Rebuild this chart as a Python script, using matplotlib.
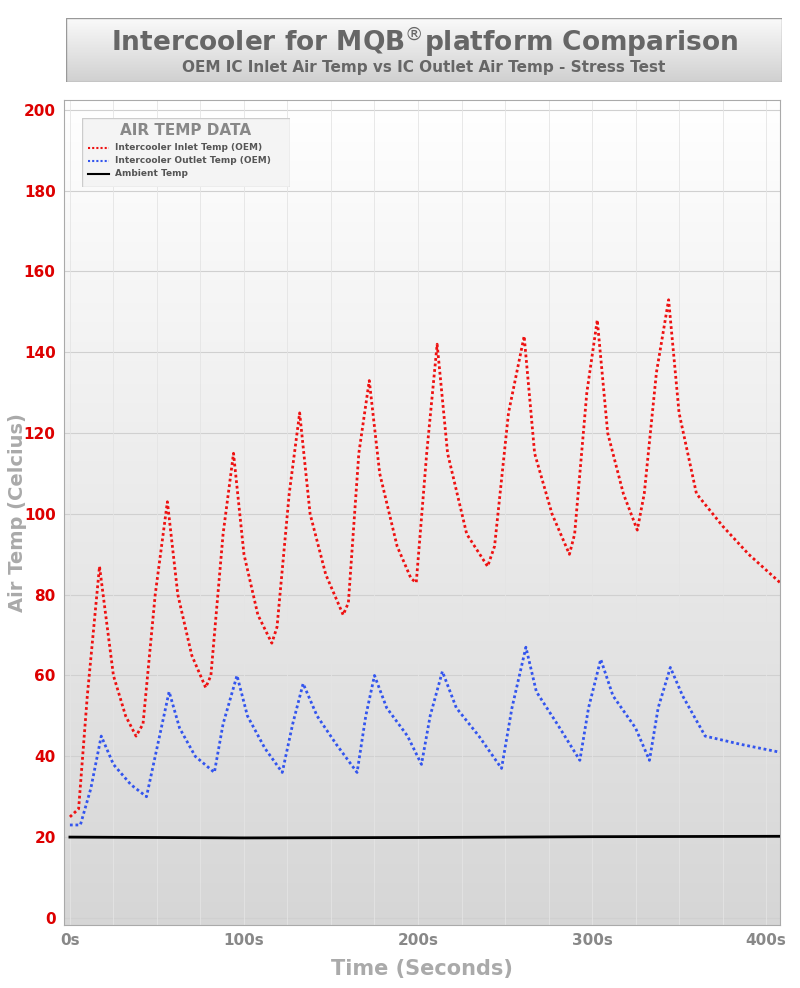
import matplotlib
matplotlib.use("Agg")
import matplotlib.pyplot as plt
import numpy as np
from matplotlib.patches import Rectangle
from matplotlib.colors import LinearSegmentedColormap

inlet_t = [0,5,10,17,25,32,38,42,49,56,62,70,78,81,88,94,100,108,116,119,126,132,138,147,157,160,166,172,178,188,196,199,205,211,217,228,240,244,252,261,267,277,287,290,297,303,309,318,326,330,337,344,350,360,375,390,408]
inlet_v = [25,27,55,87,60,50,45,48,80,103,80,65,57,60,95,115,90,75,68,72,105,125,100,85,75,78,115,133,110,92,84,83,115,142,115,95,87,92,125,144,115,100,90,95,130,148,120,105,96,105,135,153,125,105,97,90,83]
outlet_t = [0,6,12,18,25,35,44,50,57,63,72,83,88,96,102,112,122,128,134,142,153,165,170,175,182,194,202,207,214,222,235,248,254,262,268,280,293,298,305,312,325,333,338,345,352,365,385,408]
outlet_v = [23,23,32,45,38,33,30,42,56,47,40,36,48,60,50,42,36,48,58,50,43,36,50,60,52,45,38,50,61,52,45,37,52,67,56,48,39,52,64,55,47,39,52,62,55,45,43,41]
ambient_t = [0,100,200,300,408]
ambient_v = [20,19.8,19.9,20.1,20.2]
yticks = [0,20,40,60,80,100,120,140,160,180,200]
xticks = [0,100,200,300,400]
xlabels = ["0s","100s","200s","300s","400s"]

fig = plt.figure(figsize=(8,9.88), dpi=100)
fig.patch.set_facecolor("white")
ax = fig.add_axes([0.08,0.064,0.895,0.835])
xl = (-3.4,408); yl = (-1.7,202.5)
ax.set_xlim(xl); ax.set_ylim(yl)
grad = np.linspace(0,1,256).reshape(-1,1)
cm = LinearSegmentedColormap.from_list("g",["#d6d6d6","#ffffff"])
ax.imshow(grad, extent=[xl[0],xl[1],yl[0],yl[1]], origin="lower", cmap=cm, aspect="auto", zorder=0)
for y in yticks:
    ax.axhline(y, color="#d0d0d0", lw=0.8, zorder=1)
for x in range(0,410,25):
    ax.axvline(x, color="#e4e4e4", lw=0.6, zorder=1)

ax.plot(inlet_t, inlet_v, color="#ee1111", lw=2, ls=(0,(1,1)), zorder=3)
ax.plot(outlet_t, outlet_v, color="#3355ee", lw=2, ls=(0,(1,1)), zorder=3)
ax.plot(ambient_t, ambient_v, color="black", lw=2, zorder=3)

ax.set_yticks(yticks)
ax.set_yticklabels([str(v) for v in yticks], color="#dd0000", fontweight="bold", fontsize=11)
ax.set_xticks(xticks)
ax.set_xticklabels(xlabels, color="#888888", fontweight="bold", fontsize=11)
ax.tick_params(length=0, pad=6)
for s in ax.spines.values():
    s.set_color("#aaaaaa")
ax.set_ylabel("Air Temp (Celcius)", color="#aaaaaa", fontweight="bold", fontsize=14)
ax.yaxis.set_label_coords(-0.052, 0.5)
ax.set_xlabel("Time (Seconds)", color="#aaaaaa", fontweight="bold", fontsize=15, labelpad=8)

lax = fig.add_axes([82/800, 1-187/988, 208/800, 69/988])
lax.set_xlim(0,1); lax.set_ylim(0,1); lax.axis("off")
lax.add_patch(Rectangle((0,0),1,1,facecolor="#f4f4f4",edgecolor="#cccccc",lw=1))
lax.text(0.5,0.82,"AIR TEMP DATA",ha="center",va="center",color="#888888",fontweight="bold",fontsize=11)
for i,(c,ls,lab) in enumerate([("#ee1111",(0,(1,1)),"Intercooler Inlet Temp (OEM)"),("#3355ee",(0,(1,1)),"Intercooler Outlet Temp (OEM)"),("black","-","Ambient Temp")]):
    y = 0.57-0.19*i
    lax.plot([0.03,0.13],[y,y],color=c,ls=ls,lw=1.5)
    lax.text(0.16,y,lab,va="center",fontsize=6.5,color="#555555",fontweight="bold")

tax = fig.add_axes([66/800, 1-82/988, 716/800, 64/988])
tax.set_xlim(0,1); tax.set_ylim(0,1); tax.axis("off")
tcm = LinearSegmentedColormap.from_list("t",["#d0d0d0","#fafafa"])
tax.imshow(grad, extent=[0,1,0,1], origin="lower", cmap=tcm, aspect="auto")
tax.add_patch(Rectangle((0,0),1,1,fill=False,edgecolor="#999999",lw=1))
tax.text(0.5,0.62,"Intercooler for MQB$^{®}$platform Comparison",ha="center",va="center",fontsize=19,fontweight="bold",color="#666666")
tax.text(0.5,0.22,"OEM IC Inlet Air Temp vs IC Outlet Air Temp - Stress Test",ha="center",va="center",fontsize=11,fontweight="bold",color="#666666")

fig.savefig("out.png", dpi=100)
